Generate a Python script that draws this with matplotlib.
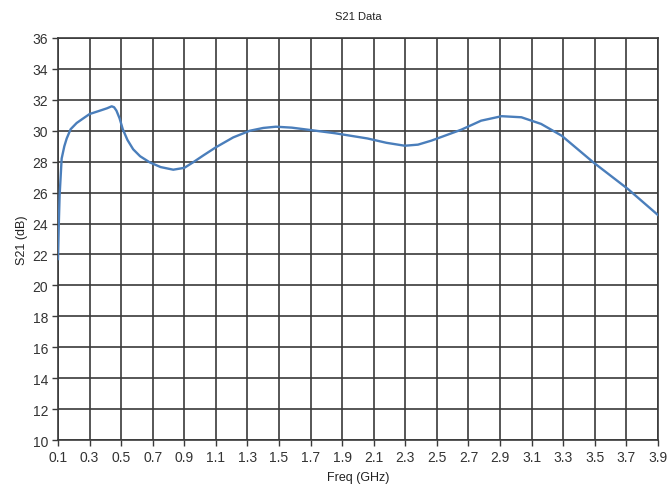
import matplotlib.pyplot as plt
import numpy as np

plt.rcParams['font.family'] = ['Liberation Sans', 'DejaVu Sans']

# Data
freq = [0.10, 0.105, 0.11, 0.123, 0.14, 0.155, 0.18, 0.218, 0.26, 0.30, 0.366, 0.41, 0.44,
        0.455, 0.47, 0.49, 0.51, 0.54, 0.576, 0.62, 0.68, 0.75, 0.83, 0.90, 0.956, 1.02, 1.10,
        1.21, 1.315, 1.40, 1.48, 1.58, 1.695, 1.853, 2.06, 2.18, 2.296, 2.38, 2.465,
        2.655, 2.78, 2.91, 3.035, 3.16, 3.29, 3.49, 3.71, 3.90]
s21 = [21.7, 24.0, 25.8, 28.2, 29.0, 29.5, 30.1, 30.5, 30.8, 31.08, 31.3, 31.45, 31.58,
       31.52, 31.3, 30.8, 30.1, 29.4, 28.8, 28.35, 27.96, 27.65, 27.48, 27.6, 27.96, 28.4, 28.93,
       29.57, 30.0, 30.18, 30.26, 30.2, 30.05, 29.84, 29.5, 29.22, 29.03, 29.1, 29.36,
       30.07, 30.65, 30.94, 30.87, 30.44, 29.68, 27.96, 26.23, 24.55]

x_ticks = [round(0.1 + 0.2 * i, 1) for i in range(20)]
y_ticks = list(range(10, 37, 2))

fig = plt.figure(figsize=(6.7, 4.85), dpi=100)
ax = fig.add_axes([0.0866, 0.0907, 0.8954, 0.829])

ax.plot(freq, s21, color='#4a7ebb', linewidth=1.7, solid_joinstyle='round', zorder=3)

ax.set_xlim(0.1, 3.9)
ax.set_ylim(10, 36)
ax.set_xticks(x_ticks)
ax.set_xticklabels([f'{t:.1f}' for t in x_ticks])
ax.set_yticks(y_ticks)

ax.grid(True, color='#3a3a3a', linewidth=1.2)
ax.set_axisbelow(True)
for s in ax.spines.values():
    s.set_color('#3a3a3a')
    s.set_linewidth(1.2)

ax.tick_params(axis='both', length=4, width=1, color='#3a3a3a', labelsize=10,
               labelcolor='#333333', pad=3)

ax.set_title('S21 Data', fontsize=8, color='#222222', pad=14)
ax.set_xlabel('Freq (GHz)', fontsize=9, color='#222222', labelpad=5)
ax.set_ylabel('S21 (dB)', fontsize=9, color='#222222', labelpad=3)

plt.savefig('out.png', dpi=100)
plt.close()
